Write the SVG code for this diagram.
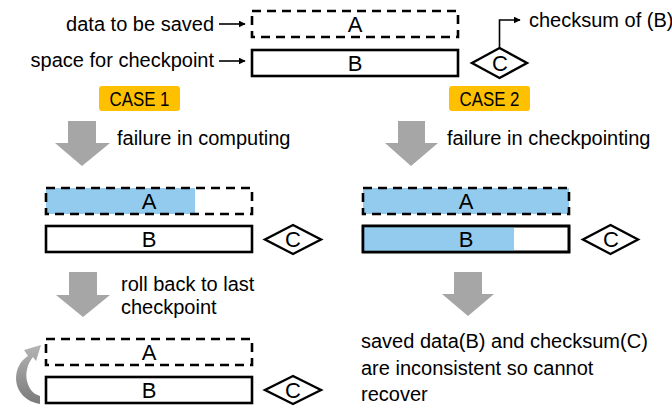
<svg xmlns="http://www.w3.org/2000/svg" width="672" height="407" viewBox="0 0 672 407">
<style>
text{font-family:"Liberation Sans",Arial,sans-serif;font-size:20px;fill:#000}
.c{text-anchor:middle;font-size:22px}
.dash{fill:none;stroke:#000;stroke-width:2.6;stroke-dasharray:9,6}
.box{fill:#fff;stroke:#000;stroke-width:2.6}
.frame{fill:none;stroke:#000;stroke-width:2.6}
.blue{fill:#93CBEE}
.dia{fill:#fff;stroke:#000;stroke-width:2.4}
.garrow{fill:#A6A6A6}
.tag{fill:#FFC000}
.ln{fill:none;stroke:#000;stroke-width:1.6}
</style>
<defs>
<marker id="ah" viewBox="0 0 10 10" refX="9" refY="5" markerWidth="7" markerHeight="7" markerUnits="userSpaceOnUse" orient="auto">
<path d="M0,0 L10,5 L0,10 Z" fill="#000"/>
</marker>
<linearGradient id="cg" x1="0" y1="0" x2="0" y2="1">
<stop offset="0" stop-color="#B5B5B5"/>
<stop offset="1" stop-color="#7A7A7A"/>
</linearGradient>
</defs>

<!-- legend -->
<g id="legend-top">
<text x="214" y="31" text-anchor="end">data to be saved</text>
<text x="214" y="67" text-anchor="end">space for checkpoint</text>
<rect id="top-A" class="dash" x="252" y="11" width="206" height="26"/>
<text class="c" x="355" y="32">A</text>
<rect id="top-B" class="box" x="252" y="50" width="206" height="26"/>
<text class="c" x="355" y="71">B</text>
</g>
<g id="top-C">
<polygon class="dia" points="499.5,48 527,63 499.5,78 472,63"/>
<text class="c" x="500" y="71">C</text>
</g>
<g id="checksum-label">
<text x="529" y="27">checksum of (B)</text>
</g>

<g id="case1-tag">
<rect class="tag" x="99" y="86" width="81" height="25" rx="3"/>
<text x="139.5" y="106" text-anchor="middle" textLength="60" lengthAdjust="spacingAndGlyphs">CASE 1</text>
</g>
<g id="case2-tag">
<rect class="tag" x="449" y="86" width="81" height="25" rx="3"/>
<text x="489.5" y="106" text-anchor="middle" textLength="60" lengthAdjust="spacingAndGlyphs">CASE 2</text>
</g>

<!-- case 1 middle -->
<g id="case1-mid">
<rect class="blue" x="46" y="188" width="149" height="26"/>
<rect class="dash" x="46" y="188" width="206" height="26"/>
<text class="c" x="149" y="209">A</text>
<rect class="box" x="46" y="226" width="206" height="26"/>
<text class="c" x="149" y="247">B</text>
<polygon class="dia" points="293,225 321,239.5 293,254 265,239.5"/>
<text class="c" x="293" y="247">C</text>
</g>

<!-- case 2 middle -->
<g id="case2-mid">
<rect class="blue" x="363" y="188" width="206" height="26"/>
<rect class="dash" x="363" y="188" width="206" height="26"/>
<text class="c" x="466" y="209">A</text>
<rect class="box" x="363" y="226" width="206" height="26"/>
<rect class="blue" x="363" y="226" width="151" height="26"/>
<rect class="frame" x="363" y="226" width="206" height="26"/>
<text class="c" x="466" y="247">B</text>
<polygon class="dia" points="610.5,225 638,239.5 610.5,254 583,239.5"/>
<text class="c" x="611" y="247">C</text>
</g>

<!-- case 1 bottom -->
<g id="case1-bottom">
<rect class="dash" x="46" y="339" width="206" height="26"/>
<text class="c" x="149" y="360">A</text>
<rect class="box" x="46" y="377" width="206" height="26"/>
<text class="c" x="149" y="398">B</text>
<polygon class="dia" points="293,376 321,390 293,404 265,390"/>
<text class="c" x="293" y="398">C</text>
</g>

<g id="result-text">
<text x="361" y="348">saved data(B) and checksum(C)</text>
<text x="361" y="375">are inconsistent so cannot</text>
<text x="361" y="401">recover</text>
</g>

<g id="step-labels">
<text x="117" y="145">failure in computing</text>
<text x="447" y="145">failure in checkpointing</text>
<text x="121" y="291">roll back to last</text>
<text x="121" y="314">checkpoint</text>
</g>

<!-- connectors -->
<g id="connectors">
<line class="ln" x1="219" y1="24" x2="245" y2="24" marker-end="url(#ah)"/>
<line class="ln" x1="219" y1="61" x2="245" y2="61" marker-end="url(#ah)"/>
<polyline class="ln" points="499.5,48 499.5,20 520,20" marker-end="url(#ah)"/>
<polygon class="garrow" points="68,121 96,121 96,143 110,143 82,166 55,143 68,143"/>
<polygon class="garrow" points="398,121 425,121 425,143 438,143 411,166 385,143 398,143"/>
<polygon class="garrow" points="69,272 97,272 97,295 110,295 83,317 56,295 69,295"/>
<polygon class="garrow" points="454,272 482,272 482,294 494,294 468,316 442,294 454,294"/>
<path fill="url(#cg)" d="M40,404 C22,401 13,386 17,371 C19,364 23,359 28,356 L24,350 L41,345 L36,361 L33,357 C28,363 25,372 27,381 C29,389 33,394 40,396 Z"/>
</g>
</svg>
